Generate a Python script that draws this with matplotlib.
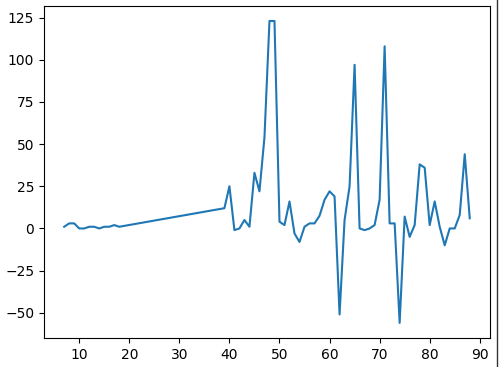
import matplotlib

matplotlib.use("Agg")
import matplotlib.pyplot as plt
from matplotlib.lines import Line2D

# Values.
x = [7, 8, 9, 10, 11, 12, 13, 14, 15, 16, 17, 18,
     39, 40, 41, 42, 43, 44, 45, 46, 47, 48, 49, 50,
     51, 52, 53, 54, 55, 56, 57, 58, 59, 60, 61, 62,
     63, 64, 65, 66, 67, 68, 69, 70, 71, 72, 73, 74,
     75, 76, 77, 78, 79, 80, 81, 82, 83, 84, 85, 86, 87, 88]
y = [1, 3, 3, 0, 0, 1, 1, 0, 1, 1, 2, 1,
     12, 25, -1, 0, 5, 1, 33, 22, 54, 123, 123, 4,
     2, 16, -3, -8, 1, 3, 3, 7.5, 17, 22, 19, -51,
     5, 25, 97, 0, -1, 0, 2, 17, 108, 3, 3, -56,
     7, -5, 2, 38, 36, 2, 16, 1, -10, 0, 0, 8, 44, 6]

fig, ax = plt.subplots(figsize=(4.99, 3.67), dpi=100)
fig.subplots_adjust(left=0.088, right=0.982, bottom=0.079, top=0.984)
ax.plot(x, y, color="#1f77b4", lw=1.5)
ax.set_xticks(range(10, 91, 10))
ax.set_yticks(range(-50, 126, 25))

# thin dark edge on the right, as in the screenshot
fig.add_artist(Line2D([0.9965, 0.9965], [0, 1], transform=fig.transFigure,
                      color="#333333", lw=1))

fig.savefig("out.png", dpi=100)
